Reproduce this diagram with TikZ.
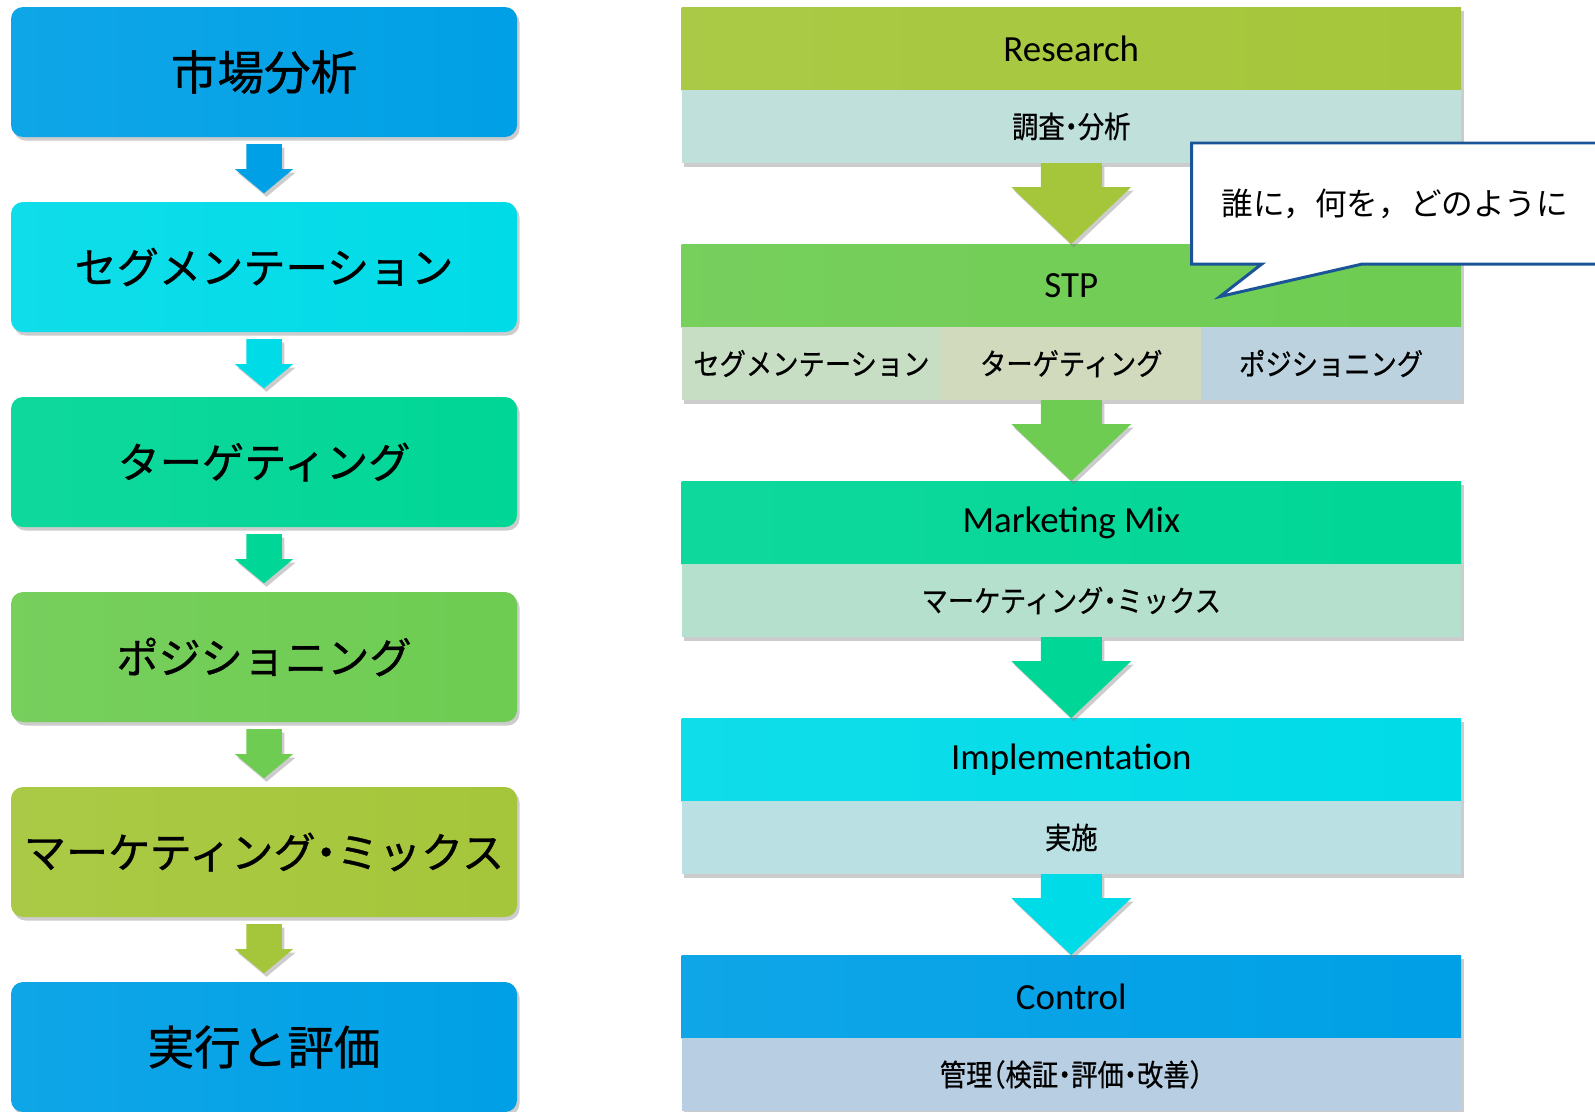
\documentclass[tikz,border=0pt]{standalone}
\usepackage{fontspec}
\setmainfont{Carlito}
\newfontfamily\jp{Noto Sans CJK JP}[RawFeature=+halt, FakeBold=0.8]
\newfontfamily\jpsub{Noto Sans CJK JP}[RawFeature=+halt, FakeStretch=0.88, FakeBold=0.6]
\newfontfamily\jpnote{Noto Sans CJK JP}
\usetikzlibrary{positioning, calc, shadows}

\definecolor{mktblue}{RGB}{0, 160, 230}
\definecolor{mktcyan}{RGB}{0, 219, 232}
\definecolor{mktteal}{RGB}{0, 214, 150}
\definecolor{mktgreen}{RGB}{110, 204, 82}
\definecolor{mktolive}{RGB}{165, 198, 58}
\definecolor{subteal}{RGB}{192, 224, 220}
\definecolor{subsage}{RGB}{200, 222, 196}
\definecolor{subbeige}{RGB}{210, 218, 190}
\definecolor{subslate}{RGB}{188, 210, 222}
\definecolor{submint}{RGB}{182, 224, 206}
\definecolor{subaqua}{RGB}{186, 224, 228}
\definecolor{substeel}{RGB}{184, 206, 226}
\definecolor{noteblue}{RGB}{28, 84, 152}

\begin{document}
\begin{tikzpicture}[
  boxshadow/.style={drop shadow={shadow xshift=0.05cm, shadow yshift=-0.07cm, opacity=0.4}},
  stepbox/.style={boxshadow, rounded corners=0.24cm, left color=#1!94!white, right color=#1, minimum width=10.12cm, minimum height=2.6cm, outer sep=0pt, font=\jp\fontsize{24}{28}\selectfont},
  kanji/.style={font=\jp\fontsize{26.5}{30}\selectfont},
  band/.style={boxshadow, left color=#1!94!white, right color=#1, minimum width=15.59cm, minimum height=1.66cm, inner sep=0pt, outer sep=0pt, font=\fontsize{21}{25}\selectfont},
  subband/.style={boxshadow, fill=#1, minimum width=15.59cm, minimum height=1.46cm, inner sep=0pt, outer sep=0pt, font=\jpsub\fontsize{17}{20}\selectfont},
  cell/.style={subband=#1, minimum width=5.197cm},
  node distance=1.3cm
]
  \useasboundingbox (0,0) rectangle (31.9,-22.22);

  % left: the six steps
  \node[stepbox=mktblue, kanji] (m1) at (5.28,-1.44) {市場分析};
  \node[stepbox=mktcyan, below=of m1] (m2) {セグメンテーション};
  \node[stepbox=mktteal, below=of m2] (m3) {ターゲティング};
  \node[stepbox=mktgreen, below=of m3] (m4) {ポジショニング};
  \node[stepbox=mktolive, below=of m4] (m5) {マーケティング・ミックス};
  \node[stepbox=mktblue, kanji, below=of m5] (m6) {実行と評価};

  \foreach \a/\b/\c in {m1/m2/mktblue, m2/m3/mktcyan, m3/m4/mktteal, m4/m5/mktgreen, m5/m6/mktolive}
    \fill[\c, boxshadow] ($(\a.south)+(-0.355,-0.14)$) -- ++(0.71,0) -- ++(0,-0.5) -- ++(0.229,0)
      -- ($(\b.north)+(0,0.174)$) -- ($(\a.south)+(-0.584,-0.64)$) -- ++(0.229,0) -- cycle;

  % right: R-STP-MM-I-C
  \node[band=mktolive, anchor=north] (res) at (21.425,-0.14) {Research};
  \node[subband=subteal, below=0pt of res] (ressub) {調査・分析};

  \node[band=mktgreen, below=1.62cm of ressub] (stp) {STP};
  \node[cell=subsage, anchor=north west] (seg) at (stp.south west) {セグメンテーション};
  \node[cell=subbeige, right=0pt of seg] (tgt) {ターゲティング};
  \node[cell=subslate, right=0pt of tgt] (pos) {ポジショニング};

  \node[band=mktteal, below=1.62cm of tgt] (mix) {Marketing Mix};
  \node[subband=submint, below=0pt of mix] (mixsub) {マーケティング・ミックス};

  \node[band=mktcyan, below=1.62cm of mixsub] (impl) {Implementation};
  \node[subband=subaqua, below=0pt of impl] (implsub) {実施};

  \node[band=mktblue, below=1.62cm of implsub] (ctrl) {Control};
  \node[subband=substeel, below=0pt of ctrl] (ctrlsub) {管理（検証・評価・改善）};

  \foreach \a/\b/\c in {ressub/stp/mktolive, tgt/mix/mktgreen, mixsub/impl/mktteal, implsub/ctrl/mktcyan}
    \fill[\c, boxshadow] ($(\a.south)+(-0.61,0)$) -- ++(1.22,0) -- ++(0,-0.48) -- ++(0.59,0)
      -- (\b.north) -- ($(\a.south)+(-1.2,-0.48)$) -- ++(0.59,0) -- cycle;

  % speech balloon over STP
  \node[anchor=north west, fill=white, minimum width=8.7cm, minimum height=2.41cm, text width=7.5cm,
    inner xsep=0.6cm, inner ysep=0pt, align=left, font=\jpnote\fontsize{18}{22}\selectfont] (note) at (23.83,-2.86) {誰に，何を，どのように};
  \coordinate (tip) at (24.4,-5.93);
  \fill[white] ($(note.south west)+(3.4,0)$) -- (tip) -- ($(note.south west)+(1.4,0)$) -- cycle;
  \draw[noteblue, line width=1.7pt, line join=miter] (note.north west) -- (note.north east) -- (note.south east)
    -- ($(note.south west)+(3.4,0)$) -- (tip) -- ($(note.south west)+(1.4,0)$) -- (note.south west) -- cycle;
\end{tikzpicture}
\end{document}
